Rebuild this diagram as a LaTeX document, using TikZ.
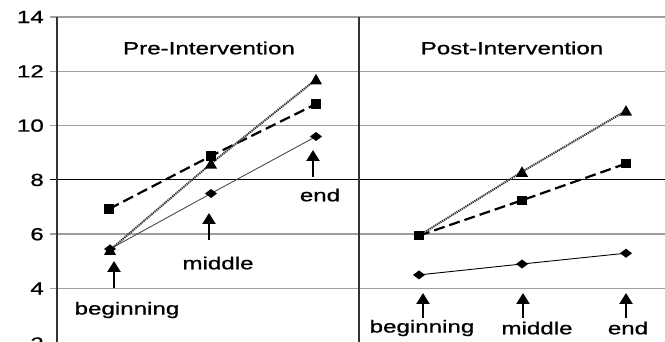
\documentclass[tikz,border=0pt]{standalone}
\usepackage{fontspec}
\setmainfont[FakeStretch=1.38,FakeBold=0.9]{Liberation Sans}
\usetikzlibrary{arrows.meta,shapes.geometric}
\tikzset{
  lbl/.style={inner sep=0pt, font=\fontsize{17.5}{20}\selectfont},
  ylbl/.style={lbl, anchor=east},
  grid/.style={draw=gray!75, line width=1.4pt},
  gridk/.style={draw=black, line width=1pt},
  axisline/.style={draw=black!80, line width=1.2pt},
  sqline/.style={draw=black, line width=2.2pt, dash pattern=on 11pt off 5pt},
  triline/.style={draw=black!78, line width=2pt, dash pattern=on 1.3pt off 0.8pt},
  diline/.style={draw=black!70, line width=0.9pt},
  sqm/.style={fill=black, minimum size=9.5pt, inner sep=0pt, outer sep=0pt},
  dim/.style={fill=black, diamond, inner sep=0pt, outer sep=0pt, minimum width=12pt, minimum height=9pt},
  trim/.style={fill=black, regular polygon, regular polygon sides=3, minimum size=14pt, inner sep=0pt, outer sep=0pt},
  uparrow/.style={draw=black, line width=2.4pt, -{Triangle[width=13pt,length=11pt]}},
}
\begin{document}
\begin{tikzpicture}[x=1pt,y=-1pt]
\useasboundingbox (0,0) rectangle (665,342);
\clip (0,0) rectangle (665,342);
% gridlines
\foreach \yy in {17,71.3,125.6,234.2,288.5,342.8} {\draw[grid] (50,\yy) -- (665,\yy);}
\draw[gridk] (50,179.9) -- (665,179.9);
\draw[axisline] (57,17) -- (57,345);
\draw[axisline] (359,17) -- (359,345);
% y labels
\node[ylbl] (y14) at (44,17) {14};
\node[ylbl] (y12) at (44,71.3) {12};
\node[ylbl] (y10) at (44,125.6) {10};
\node[ylbl] (y8) at (44,179.9) {8};
\node[ylbl] (y6) at (44,234.2) {6};
\node[ylbl] (y4) at (44,288.5) {4};
\node[ylbl] (y2) at (44,343.5) {2};
% titles
\node[lbl] (tpre) at (209,48) {Pre-Intervention};
\node[lbl] (tpost) at (512,48) {Post-Intervention};
% data coordinates (pre)
\coordinate (ps1) at (109,209);
\coordinate (ps2) at (211,156);
\coordinate (ps3) at (316,104);
\coordinate (pt1) at (110,250);
\coordinate (pt2) at (211,163.6);
\coordinate (pt3) at (316,79.4);
\coordinate (pd1) at (110,249);
\coordinate (pd2) at (211,193.5);
\coordinate (pd3) at (316,136.5);
% post
\coordinate (qs1) at (419,235.6);
\coordinate (qs2) at (522,200.3);
\coordinate (qs3) at (626,163.6);
\coordinate (qt1) at (419,235.6);
\coordinate (qt2) at (522,171.8);
\coordinate (qt3) at (626,110.7);
\coordinate (qd1) at (419,274.9);
\coordinate (qd2) at (522,264);
\coordinate (qd3) at (626,253.2);
% lines
\draw[diline] (pd1) -- (pd2) -- (pd3);
\draw[sqline] (ps1) -- (ps2) -- (ps3);
\draw[triline] (pt1) -- (pt2) -- (pt3);
\draw[diline,draw=black] (qd1) -- (qd2) -- (qd3);
\draw[sqline] (qs1) -- (qs2) -- (qs3);
\draw[triline] (qt1) -- (qt2) -- (qt3);
% markers
\foreach \p in {pd1,pd2,pd3,qd1,qd2,qd3} {\node[dim] at (\p) {};}
\foreach \p in {ps1,ps2,ps3,qs1,qs2,qs3} {\node[sqm] at (\p) {};}
\foreach \p in {pt1,pt2,pt3,qt2,qt3} {\node[trim,yshift=-1.5pt] at (\p) {};}
% arrows and labels (pre)
\node[lbl] (lpb) at (127,310) {beginning};
\node[lbl] (lpm) at (218,263) {middle};
\node[lbl] (lpe) at (320,195) {end};
\coordinate (apb0) at (114,288); \coordinate (apb1) at (114,261);
\coordinate (apm0) at (209,240); \coordinate (apm1) at (209,213);
\coordinate (ape0) at (313,177); \coordinate (ape1) at (313,150);
\draw[uparrow] (apb0) -- (apb1);
\draw[uparrow] (apm0) -- (apm1);
\draw[uparrow] (ape0) -- (ape1);
% post
\node[lbl] (lqb) at (422,328) {beginning};
\node[lbl] (lqm) at (537,328) {middle};
\node[lbl] (lqe) at (628,328) {end};
\coordinate (aqb0) at (423,318); \coordinate (aqb1) at (423,293);
\coordinate (aqm0) at (523,318); \coordinate (aqm1) at (523,293);
\coordinate (aqe0) at (626,318); \coordinate (aqe1) at (626,293);
\draw[uparrow] (aqb0) -- (aqb1);
\draw[uparrow] (aqm0) -- (aqm1);
\draw[uparrow] (aqe0) -- (aqe1);
\end{tikzpicture}
\end{document}
